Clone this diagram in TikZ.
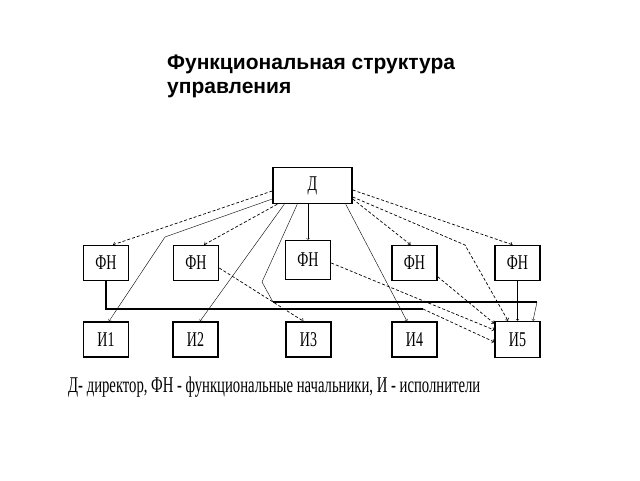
\documentclass[tikz,border=0pt]{standalone}
\usepackage{fontspec}
\setmainfont{Liberation Serif}
\newfontfamily\headfont{Liberation Sans}
\usepackage{tikz}
\usetikzlibrary{arrows,calc}
\tikzstyle{unit}=[rectangle,draw,line width=1.5pt,inner sep=0pt,minimum width=45pt,minimum height=35pt,font=\fontsize{14}{14}\selectfont]
\tikzstyle{edge} = [draw,->,>=to,densely dashed,line width=0.7pt]
\tikzstyle{thinedge} = [draw,->,>=to,line width=0.4pt]
\tikzstyle{bus} = [draw,line width=1.1pt]
\newcommand{\tall}[1]{\scalebox{1}[1.5]{#1}}

\begin{document}
\begin{tikzpicture}[x=1pt,y=-1pt]
    \useasboundingbox (0,0) rectangle (640,480);
    % Title
    \node[anchor=north west,inner sep=0pt,align=left,font=\headfont\bfseries\fontsize{21}{23.5}\selectfont] (title) at (167,55)
        {Функциональная структура\\управления};
    % First we draw the boxes
    \node[unit,minimum width=79pt,minimum height=36pt] (d) at (312.5,185.5) {\tall{Д}};
    \foreach \pos/\name/\lbl in {{(106,263)/f1/ФН}, {(196,263)/f2/ФН}, {(414.5,263)/f4/ФН},
                                 {(517.5,263)/f5/ФН}, {(106,339.5)/i1/И1}, {(195.5,339.5)/i2/И2},
                                 {(308.5,339.5)/i3/И3}, {(414.5,339.5)/i4/И4}}
        \node[unit] (\name) at \pos {\tall{\lbl}};
    \node[unit,minimum height=39pt] (f3) at (308,260) {\tall{ФН}};
    \node[unit,minimum height=36pt] (i5) at (517.5,339.5) {\tall{И5}};
    % Ends of the connectors on the boxes
    \coordinate (dw1) at ($(d.west)+(0,5.5)$);
    \coordinate (dw2) at ($(d.west)+(0,13.5)$);
    \coordinate (ds1) at ($(d.south west)+(5,0)$);
    \coordinate (ds2) at ($(d.south west)+(12,0)$);
    \coordinate (ds3) at ($(d.south west)+(25,0)$);
    \coordinate (ds4) at (d.south -| f3.north);
    \coordinate (ds5) at ($(d.south east)+(-7,0)$);
    \coordinate (de1) at ($(d.east)+(0,4.5)$);
    \coordinate (de2) at ($(d.east)+(0,11.5)$);
    \coordinate (de3) at ($(d.east)+(0,13.5)$);
    \coordinate (f1n) at ($(f1.north)+(7,0)$);
    \coordinate (f2n) at ($(f2.north)+(8,0)$);
    \coordinate (f4n) at ($(f4.north)+(-4,0)$);
    \coordinate (f5n) at ($(f5.north)+(-5,0)$);
    \coordinate (f2e) at ($(f2.east)+(0,5)$);
    \coordinate (f3e) at ($(f3.east)+(0,3)$);
    \coordinate (f4e) at ($(f4.south east)+(0,-4.5)$);
    \coordinate (i1n) at ($(i1.north)+(3,0)$);
    \coordinate (i2n) at ($(i2.north)+(4.5,0)$);
    \coordinate (i3n) at ($(i3.north)+(-5,0)$);
    \coordinate (i4n) at ($(i4.north)+(-7.5,0)$);
    \coordinate (i5n1) at ($(i5.north)+(-9.5,0)$);
    \coordinate (i5n2) at ($(i5.north)+(15.5,0)$);
    \coordinate (i5w1) at ($(i5.west)+(0,-16)$);
    \coordinate (i5w2) at ($(i5.west)+(0,-9.5)$);
    \coordinate (i5w3) at ($(i5.west)+(0,2.5)$);
    % Bend points
    \coordinate (k1) at (165,237);
    \coordinate (k2) at (262,282);
    \coordinate (k3) at (273,302);
    \coordinate (k4) at (537,302);
    \coordinate (k5) at (465,245);
    \coordinate (k6) at (106,309);
    \coordinate (k7) at (423,309);
    % Straight connectors
    \foreach \source/\dest in {dw1/f1n, ds1/f2n, de3/f4n, de1/f5n, f2e/i3n, f3e/i5w2, f4e/i5w1}
        \path[edge] (\source) -- (\dest);
    \foreach \source/\dest in {ds4/f3.north, ds2/i2n, ds5/i4n, f5.south/i5.north}
        \path[thinedge] (\source) -- (\dest);
    % Bent connectors
    \path[thinedge] (dw2) -- (k1) -- (i1n);
    \draw[line width=0.4pt] (ds3) -- (k2) -- (k3);
    \draw[bus] (k3) -- (k4);
    \path[thinedge] (k4) -- (i5n2);
    \path[edge] (de2) -- (k5) -- (i5n1);
    \draw[bus] (f1.south) -- (k6) -- (k7);
    \path[edge] (k7) -- (i5w3);
    % Legend
    \node[anchor=base west,inner sep=0pt,font=\fontsize{15}{15}\selectfont] (legend) at (68,392)
        {\scalebox{0.98}[1.5]{Д- директор, ФН - функциональные начальники, И - исполнители}};
\end{tikzpicture}
\end{document}
